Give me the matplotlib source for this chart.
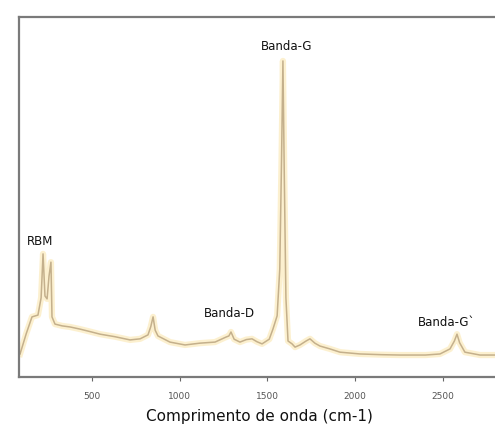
import numpy as np
import matplotlib.pyplot as plt

# Raman spectrum (wavenumber in cm-1, intensity in arbitrary units)
wavenumber = [90, 125, 158, 192, 210, 221, 232, 244, 255, 266, 272, 289,
              330, 375, 432, 490, 546, 630, 717, 774, 819, 835, 848, 860, 876,
              944, 1030, 1115, 1201, 1264, 1280, 1292, 1310, 1343, 1380, 1412,
              1440, 1469, 1510, 1531, 1555, 1570, 1580, 1588, 1596, 1605, 1617,
              1640, 1657, 1685, 1720, 1742, 1770, 1799, 1856, 1913, 2027, 2150,
              2255, 2400, 2483, 2540, 2565, 2580, 2595, 2625, 2711, 2796, 2830]
intensity = [6.4, 12.0, 16.7, 17.2, 22.0, 34.2, 22.5, 21.7, 28.0, 31.9, 16.7, 14.7,
             14.2, 13.9, 13.3, 12.6, 11.9, 11.2, 10.3, 10.6, 11.7, 14.0, 16.7, 13.0, 11.4,
             9.7, 8.9, 9.4, 9.7, 11.1, 11.4, 12.5, 10.5, 9.7, 10.4, 10.6,
             9.8, 9.2, 10.5, 13.3, 17.0, 30.0, 60.0, 87.8, 55.0, 22.0, 10.0,
             9.2, 8.3, 8.9, 10.0, 10.6, 9.4, 8.6, 7.8, 6.9, 6.4, 6.2,
             6.1, 6.1, 6.4, 7.8, 10.0, 11.9, 9.5, 6.9, 6.1, 6.1, 6.1]

xticks = [500, 1000, 1500, 2000, 2500]

peak_labels = ["RBM", "Banda-G", "Banda-D", "Banda-G`"]
peak_label_pos = [(205, 38.0), (1610, 92.0), (1285, 17.8), (2358, 15.5)]
peak_label_ha = ["center", "center", "center", "left"]

fig = plt.figure(figsize=(4.95, 4.39), dpi=100)
ax = fig.add_axes([19 / 495, 61 / 439, 481 / 495, 360 / 439])

# soft yellow glow under the trace, then the tan line itself
ax.plot(wavenumber, intensity, color="#fbe7b0", linewidth=4.5, alpha=0.6,
        solid_joinstyle="round")
ax.plot(wavenumber, intensity, color="#c4b08c", linewidth=1.1,
        solid_joinstyle="round")

for text, (px, py), ha in zip(peak_labels, peak_label_pos, peak_label_ha):
    ax.text(px, py, text, ha=ha, va="center", fontsize=8.5, color="#111111",
            clip_on=False)

ax.set_xlim(84, 2825)
ax.set_ylim(0, 100)
ax.set_yticks([])
ax.set_xticks(xticks)
ax.set_xticklabels([str(t) for t in xticks])
ax.tick_params(axis="x", direction="out", length=3, width=0.8, colors="#666666",
               labelsize=6.5, pad=7, labelcolor="#555555")

for side in ["left", "top", "bottom", "right"]:
    ax.spines[side].set_color("#7a7a7a")
    ax.spines[side].set_linewidth(1.6)

ax.set_xlabel("Comprimento de onda (cm-1)", fontsize=11, color="#111111",
              labelpad=6)

fig.savefig("out.png", dpi=100)
